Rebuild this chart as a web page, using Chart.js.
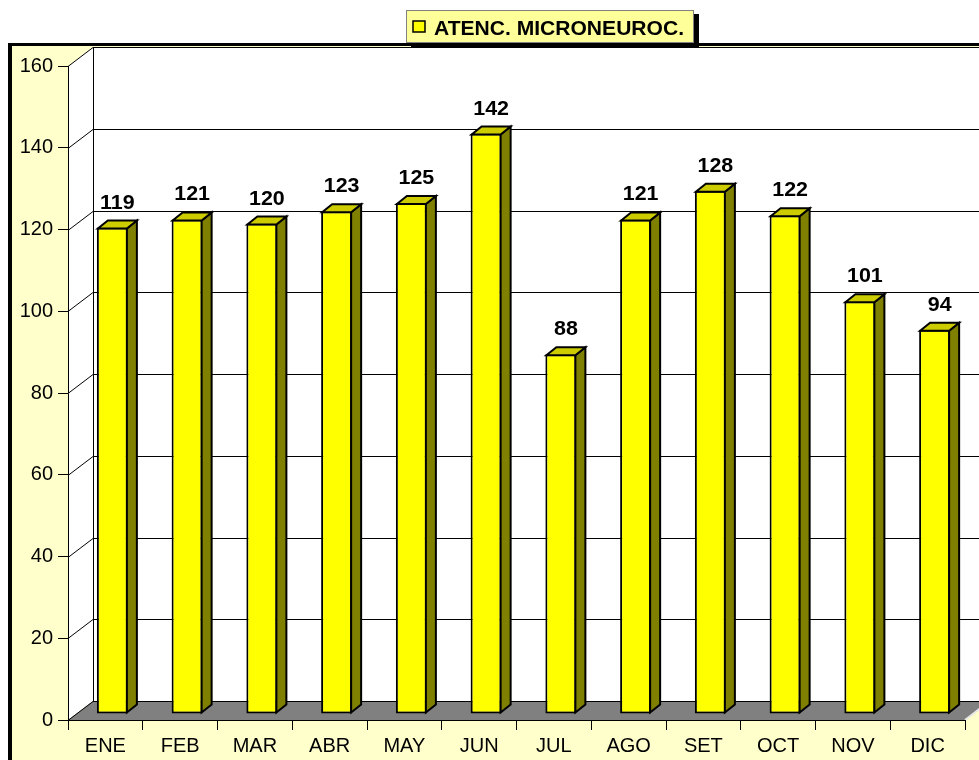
<!DOCTYPE html>
<html>
<head>
	<meta charset="utf-8">
	<title>Atenciones Microneurocirugía</title>
	<script src="https://cdn.jsdelivr.net/npm/chart.js@4/dist/chart.umd.min.js"></script>
	<style>
		body { margin: 0; background: #fff; overflow: hidden; }
		canvas { display: block; }
	</style>
</head>
<body>
	<canvas id="grafico" width="979" height="760"></canvas>

	<script type="text/javascript">

		var meses = ['ENE', 'FEB', 'MAR', 'ABR', 'MAY', 'JUN', 'JUL', 'AGO', 'SET', 'OCT', 'NOV', 'DIC'];
		var atenciones = [119, 121, 120, 123, 125, 142, 88, 121, 128, 122, 101, 94];
		var serie = 'ATENC. MICRONEUROC.';
		var ejeMin = 0, ejeMax = 160, ejePaso = 20;

		// profundidad de las paredes y de las barras (efecto 3D de Excel)
		var PARED_X = 25, PARED_Y = -19;
		var BARRA_X = 10, BARRA_Y = -8;
		var DESPL_X = 7, DESPL_Y = -6;

		var FUENTE = 'Arial, "Liberation Sans", sans-serif';
		Chart.defaults.font.family = FUENTE;

		var fondo3D = {
			id: 'fondo3D',
			beforeDraw: function(chart) {
				var ctx = chart.ctx, a = chart.chartArea, y = chart.scales.y;
				var W = chart.width, H = chart.height;
				ctx.save();
				ctx.fillStyle = '#ffffff';
				ctx.fillRect(0, 0, W, H);
				ctx.fillStyle = '#ffffcc';
				ctx.fillRect(12, 46, W - 12, H - 46);

				// pared lateral
				ctx.fillStyle = '#ffffff';
				ctx.beginPath();
				ctx.moveTo(a.left, a.top);
				ctx.lineTo(a.left + PARED_X, a.top + PARED_Y);
				ctx.lineTo(a.left + PARED_X, a.bottom + PARED_Y);
				ctx.lineTo(a.left, a.bottom);
				ctx.closePath();
				ctx.fill();
				// pared del fondo
				ctx.fillRect(a.left + PARED_X, a.top + PARED_Y, W, a.bottom - a.top);

				// piso
				ctx.fillStyle = '#808080';
				ctx.beginPath();
				ctx.moveTo(a.left, a.bottom);
				ctx.lineTo(a.left + PARED_X, a.bottom + PARED_Y);
				ctx.lineTo(a.right + PARED_X, a.bottom + PARED_Y);
				ctx.lineTo(a.right, a.bottom);
				ctx.closePath();
				ctx.fill();

				// líneas de división
				ctx.strokeStyle = '#000';
				ctx.lineWidth = 1;
				ctx.beginPath();
				y.ticks.forEach(function(t) {
					var py = Math.round(y.getPixelForValue(t.value)) + 0.5;
					ctx.moveTo(a.left, py);
					ctx.lineTo(a.left + PARED_X, py + PARED_Y);
					ctx.lineTo(W, py + PARED_Y);
				});
				ctx.moveTo(a.left + PARED_X + 0.5, a.top + PARED_Y);
				ctx.lineTo(a.left + PARED_X + 0.5, a.bottom + PARED_Y);
				ctx.stroke();

				// borde derecho del piso
				ctx.strokeStyle = '#e8e8e8';
				ctx.lineWidth = 2;
				ctx.beginPath();
				ctx.moveTo(a.right, a.bottom);
				ctx.lineTo(a.right + PARED_X, a.bottom + PARED_Y);
				ctx.stroke();

				// borde del área del gráfico
				ctx.fillStyle = '#000';
				ctx.fillRect(8, 43, W - 8, 3);
				ctx.fillRect(8, 43, 4, H - 43);
				ctx.restore();
			}
		};

		var barras3D = {
			id: 'barras3D',
			beforeDatasetsDraw: function(chart) {
				chart.ctx.save();
				chart.ctx.translate(DESPL_X, DESPL_Y);
			},
			afterDatasetsDraw: function(chart) {
				var ctx = chart.ctx;
				var meta = chart.getDatasetMeta(0);
				ctx.lineWidth = 2;
				ctx.strokeStyle = '#000';
				ctx.lineJoin = 'miter';
				meta.data.forEach(function(bar, i) {
					var p = bar.getProps(['x', 'y', 'base', 'width'], true);
					var l = p.x - p.width / 2 + 1, r = p.x + p.width / 2 - 1;
					var t = p.y + 1, b = p.base - 1;

					ctx.fillStyle = '#808000';
					ctx.beginPath();
					ctx.moveTo(r, t);
					ctx.lineTo(r + BARRA_X, t + BARRA_Y);
					ctx.lineTo(r + BARRA_X, b + BARRA_Y);
					ctx.lineTo(r, b);
					ctx.closePath();
					ctx.fill();
					ctx.stroke();

					ctx.fillStyle = '#cccc00';
					ctx.beginPath();
					ctx.moveTo(l, t);
					ctx.lineTo(l + BARRA_X, t + BARRA_Y);
					ctx.lineTo(r + BARRA_X, t + BARRA_Y);
					ctx.lineTo(r, t);
					ctx.closePath();
					ctx.fill();
					ctx.stroke();

					// etiqueta del valor
					ctx.save();
					ctx.translate(p.x + 5, p.y - 19);
					ctx.scale(1.1, 1);
					ctx.font = 'bold 19.5px ' + FUENTE;
					ctx.fillStyle = '#000';
					ctx.textAlign = 'center';
					ctx.textBaseline = 'alphabetic';
					ctx.fillText(String(atenciones[i]), 0, 0);
					ctx.restore();
				});
				ctx.restore();
			}
		};

		var leyenda = {
			id: 'leyenda',
			afterDraw: function(chart) {
				var ctx = chart.ctx;
				var texto = chart.data.datasets[0].label;
				var x = 406, y = 10, alto = 33;
				ctx.save();
				ctx.font = 'bold 19.5px ' + FUENTE;
				var ancho = ctx.measureText(texto).width * 1.08 + 38;

				ctx.fillStyle = '#000';
				ctx.fillRect(x + 5, y + 4, ancho, alto);
				ctx.fillStyle = '#ffff99';
				ctx.fillRect(x, y, ancho, alto);
				ctx.strokeStyle = '#808080';
				ctx.lineWidth = 1;
				ctx.strokeRect(x + 0.5, y + 0.5, ancho - 1, alto - 1);

				ctx.fillStyle = '#ffff00';
				ctx.fillRect(x + 7, y + 11, 12, 11);
				ctx.strokeStyle = '#000';
				ctx.lineWidth = 1.5;
				ctx.strokeRect(x + 7, y + 11, 12, 11);

				ctx.translate(x + 28, y + 25);
				ctx.scale(1.08, 1);
				ctx.fillStyle = '#000';
				ctx.textBaseline = 'alphabetic';
				ctx.fillText(texto, 0, 0);
				ctx.restore();
			}
		};

		var config = {
			type: 'bar',
			data: {
				labels: meses,
				datasets: [
					{
						label: serie,
						data: atenciones,
						backgroundColor: '#ffff00',
						borderColor: '#000',
						borderWidth: 2,
						borderSkipped: false,
						categoryPercentage: 1,
						barPercentage: 0.415
					}
				]
			},
			options: {
				responsive: false,
				devicePixelRatio: 1,
				animation: false,
				layout: {
					padding: { top: 66, right: 14, left: 0, bottom: 0 }
				},
				plugins: {
					legend: { display: false },
					tooltip: { enabled: false }
				},
				scales: {
					x: {
						offset: true,
						grid: { offset: true, drawOnChartArea: false, drawTicks: true, tickLength: 10, color: '#000' },
						border: { color: '#000', width: 1 },
						ticks: { color: '#000', font: { size: 20 }, padding: 4, maxRotation: 0, autoSkip: false },
						afterFit: function(s) { s.height = 40; }
					},
					y: {
						min: ejeMin,
						max: ejeMax,
						grid: { drawOnChartArea: false, drawTicks: true, tickLength: 10, color: '#000' },
						border: { color: '#000', width: 1 },
						ticks: { stepSize: ejePaso, color: '#000', font: { size: 20 }, padding: 5 },
						afterFit: function(s) { s.width = 68; }
					}
				}
			},
			plugins: [fondo3D, barras3D, leyenda]
		};

		var ctx = document.getElementById('grafico').getContext('2d');
		var chart = new Chart(ctx, config);

	</script>
</body>
</html>
